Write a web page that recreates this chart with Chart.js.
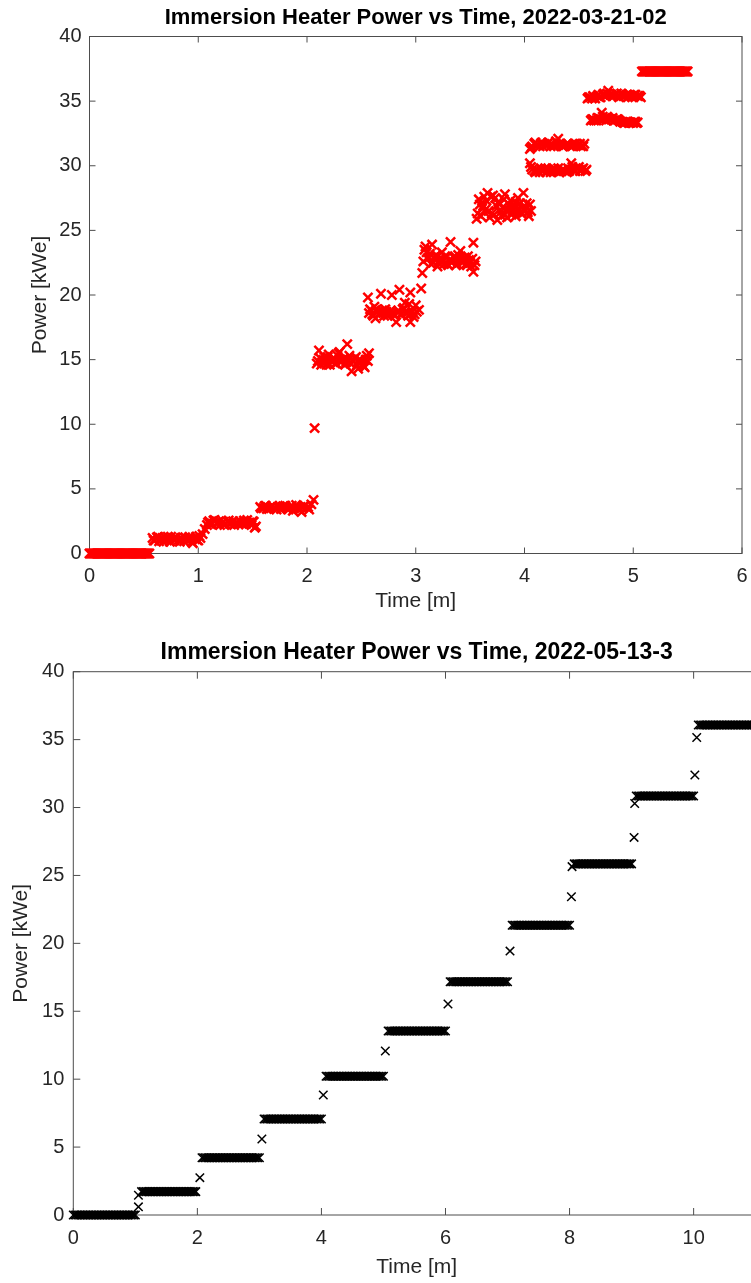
<!DOCTYPE html>
<html>
<head>
<meta charset="utf-8">
<title>Immersion Heater Power vs Time</title>
<script src="https://cdn.jsdelivr.net/npm/chart.js@4.4.1/dist/chart.umd.min.js"></script>
<style>
  html, body { margin: 0; padding: 0; background: #fff; overflow: hidden; }
  canvas { display: block; }
  #topPanel { position: absolute; left: 0; top: 0; width: 751px; height: 620px; }
  #bottomPanel { position: absolute; left: 0; top: 620px; width: 751px; height: 663px; overflow: hidden; }
</style>
</head>
<body>
<div id="topPanel"><canvas id="marchChart" width="751" height="620"></canvas></div>
<div id="bottomPanel"><canvas id="mayChart" width="770" height="663"></canvas></div>
<script>
// ─── Data: 2022-03-21-02 (red) ────────────────────────────────────────────────
// rows line up between the time and power arrays
const marchTime = [
  // 0 kWe
  0.00, 0.01, 0.02, 0.03, 0.04, 0.05, 0.06, 0.07, 0.08, 0.09,
  0.10, 0.11, 0.12, 0.13, 0.14, 0.15, 0.16, 0.17, 0.18, 0.19,
  0.20, 0.21, 0.22, 0.23, 0.24, 0.25, 0.26, 0.27, 0.28, 0.29,
  0.30, 0.31, 0.32, 0.33, 0.34, 0.35, 0.36, 0.37, 0.38, 0.39,
  0.40, 0.41, 0.42, 0.43, 0.44, 0.45, 0.46, 0.47, 0.48, 0.49,
  0.50, 0.51, 0.52, 0.53, 0.54, 0.55,
  // ~1.1
  0.58, 0.60, 0.63, 0.65, 0.68, 0.70, 0.73, 0.75, 0.78, 0.80, 0.83, 0.85, 0.88, 0.90, 0.93, 0.95, 0.98, 1.00, 1.02, 1.04, 1.06,
  0.59, 0.62, 0.64, 0.67, 0.69, 0.72, 0.74, 0.77, 0.79, 0.82, 0.84, 0.87, 0.89, 0.92, 0.94, 0.97, 0.99, 1.01,
  // ~2.35
  1.08, 1.10, 1.13, 1.15, 1.18, 1.20, 1.23, 1.25, 1.28, 1.30, 1.33, 1.35, 1.38, 1.40, 1.43, 1.45, 1.48, 1.50, 1.53, 1.52,
  1.09, 1.12, 1.14, 1.17, 1.19, 1.22, 1.24, 1.27, 1.29, 1.32, 1.34, 1.37, 1.39, 1.42, 1.44, 1.47, 1.49, 1.51,
  // ~3.55
  1.57, 1.60, 1.62, 1.65, 1.67, 1.70, 1.72, 1.75, 1.77, 1.80, 1.82, 1.85, 1.87, 1.90, 1.92, 1.95, 1.97, 2.00, 2.02, 2.04, 2.06, 2.07,
  1.58, 1.61, 1.63, 1.66, 1.68, 1.71, 1.73, 1.76, 1.78, 1.81, 1.83, 1.86, 1.88, 1.91, 1.93, 1.96, 1.98, 2.01,
  // ~15
  2.09, 2.11, 2.13, 2.15, 2.17, 2.19, 2.21, 2.23, 2.25, 2.27, 2.29, 2.31, 2.33, 2.35, 2.37, 2.39, 2.41, 2.43, 2.45, 2.47, 2.49, 2.51, 2.53, 2.55, 2.57,
  2.10, 2.12, 2.14, 2.16, 2.18, 2.20, 2.22, 2.24, 2.26, 2.28, 2.30, 2.32, 2.34, 2.36, 2.38, 2.40, 2.42, 2.44, 2.46, 2.48, 2.50, 2.52, 2.54, 2.56,
  // ~18.7
  2.56, 2.58, 2.60, 2.62, 2.63, 2.65, 2.68, 2.70, 2.72, 2.74, 2.76, 2.78, 2.80, 2.82, 2.84, 2.85, 2.87, 2.89, 2.90, 2.92, 2.95, 2.95, 2.97, 2.98, 3.00, 3.03, 3.05,
  2.57, 2.59, 2.61, 2.64, 2.66, 2.67, 2.69, 2.71, 2.73, 2.75, 2.77, 2.79, 2.81, 2.83, 2.86, 2.88, 2.91, 2.93, 2.94, 2.96, 2.99, 3.01,
  // ~22.8
  3.06, 3.08, 3.09, 3.11, 3.13, 3.15, 3.16, 3.18, 3.20, 3.22, 3.24, 3.26, 3.28, 3.30, 3.32, 3.34, 3.36, 3.38, 3.40, 3.41, 3.43, 3.45, 3.47, 3.49, 3.51, 3.53, 3.53, 3.55,
  3.07, 3.10, 3.12, 3.14, 3.17, 3.19, 3.21, 3.23, 3.25, 3.27, 3.29, 3.31, 3.33, 3.35, 3.37, 3.39, 3.42, 3.44, 3.46, 3.48, 3.50, 3.52, 3.54,
  // ~26.8
  3.56, 3.58, 3.60, 3.61, 3.63, 3.64, 3.66, 3.68, 3.70, 3.71, 3.73, 3.75, 3.76, 3.78, 3.80, 3.82, 3.82, 3.84, 3.85, 3.87, 3.89, 3.90, 3.92, 3.92, 3.94, 3.95, 3.97, 3.98, 3.99, 4.01, 4.02, 4.04, 4.06,
  3.57, 3.59, 3.62, 3.65, 3.67, 3.69, 3.72, 3.74, 3.77, 3.79, 3.81, 3.83, 3.86, 3.88, 3.91, 3.93, 3.96, 4.00, 4.03, 4.05,
  // ~29.7
  4.05, 4.07, 4.10, 4.12, 4.15, 4.17, 4.20, 4.22, 4.25, 4.27, 4.30, 4.32, 4.35, 4.37, 4.40, 4.43, 4.45, 4.47, 4.50, 4.52, 4.54, 4.57,
  4.06, 4.09, 4.11, 4.14, 4.16, 4.19, 4.21, 4.24, 4.26, 4.29, 4.31, 4.34, 4.36, 4.39, 4.41, 4.44, 4.46, 4.49, 4.51, 4.53, 4.56,
  // ~31.6
  4.05, 4.07, 4.10, 4.12, 4.15, 4.17, 4.20, 4.22, 4.25, 4.27, 4.30, 4.31, 4.33, 4.35, 4.38, 4.40, 4.42, 4.45, 4.47, 4.50, 4.52, 4.55,
  4.06, 4.09, 4.11, 4.14, 4.16, 4.19, 4.21, 4.24, 4.26, 4.29, 4.32, 4.34, 4.36, 4.39, 4.41, 4.44, 4.46, 4.49, 4.51, 4.54,
  // ~33.5
  4.61, 4.63, 4.66, 4.68, 4.71, 4.73, 4.76, 4.78, 4.81, 4.83, 4.86, 4.88, 4.91, 4.93, 4.96, 4.98, 5.01, 5.03,
  4.62, 4.64, 4.67, 4.70, 4.72, 4.75, 4.77, 4.80, 4.82, 4.85, 4.87, 4.90, 4.92, 4.95, 4.97, 5.00, 5.02, 5.04,
  // ~35.4
  4.58, 4.60, 4.63, 4.65, 4.68, 4.70, 4.73, 4.75, 4.77, 4.80, 4.82, 4.85, 4.87, 4.90, 4.92, 4.95, 4.97, 5.00, 5.02, 5.05, 5.07,
  4.59, 4.62, 4.64, 4.67, 4.69, 4.72, 4.74, 4.76, 4.79, 4.81, 4.84, 4.86, 4.89, 4.91, 4.94, 4.96, 4.99, 5.01, 5.04, 5.06,
  // 37.3
  5.08, 5.09,
  5.10, 5.11, 5.12, 5.13, 5.14, 5.15, 5.16, 5.17, 5.18, 5.19,
  5.20, 5.21, 5.22, 5.23, 5.24, 5.25, 5.26, 5.27, 5.28, 5.29,
  5.30, 5.31, 5.32, 5.33, 5.34, 5.35, 5.36, 5.37, 5.38, 5.39,
  5.40, 5.41, 5.42, 5.43, 5.44, 5.45, 5.46, 5.47, 5.48, 5.49,
  5.50,
];
const marchPower = [
  0, 0, 0, 0, 0, 0, 0, 0, 0, 0,
  0, 0, 0, 0, 0, 0, 0, 0, 0, 0,
  0, 0, 0, 0, 0, 0, 0, 0, 0, 0,
  0, 0, 0, 0, 0, 0, 0, 0, 0, 0,
  0, 0, 0, 0, 0, 0, 0, 0, 0, 0,
  0, 0, 0, 0, 0, 0,
  1.2, 1.0, 1.3, 1.1, 0.9, 1.2, 1.1, 1.3, 1.0, 1.2, 0.9, 1.1, 1.25, 1.0, 1.15, 0.8, 1.3, 1.0, 1.2, 1.5, 1.9,
  1.0, 1.25, 0.95, 1.2, 1.05, 1.3, 0.9, 1.15, 1.25, 1.05, 1.2, 0.95, 1.1, 1.3, 0.9, 1.1, 1.05, 1.35,
  2.2, 2.5, 2.3, 2.6, 2.4, 2.2, 2.45, 2.3, 2.55, 2.35, 2.2, 2.4, 2.5, 2.3, 2.45, 2.6, 2.3, 2.5, 2.1, 2.0,
  2.4, 2.25, 2.55, 2.3, 2.5, 2.35, 2.2, 2.45, 2.3, 2.5, 2.35, 2.25, 2.45, 2.55, 2.3, 2.4, 2.2, 2.45,
  3.6, 3.5, 3.7, 3.45, 3.6, 3.55, 3.4, 3.65, 3.5, 3.7, 3.45, 3.6, 3.3, 3.75, 3.5, 3.2, 3.65, 3.55, 3.4, 3.8, 4.15, 9.7,
  3.5, 3.65, 3.45, 3.55, 3.7, 3.5, 3.6, 3.45, 3.65, 3.55, 3.4, 3.7, 3.5, 3.6, 3.4, 3.55, 3.7, 3.6,
  14.7, 15.7, 14.6, 15.0, 14.8, 15.2, 14.6, 14.9, 15.1, 14.7, 15.5, 14.8, 15.0, 14.6, 16.2, 15.3, 14.1, 14.9, 15.2, 14.3, 15.0, 14.6, 14.4, 15.3, 15.5,
  14.9, 15.1, 14.8, 15.2, 14.6, 15.4, 14.9, 15.0, 14.7, 15.3, 15.6, 14.9, 15.1, 14.8, 15.0, 14.7, 14.9, 15.1, 14.6, 15.0, 14.8, 14.5, 15.0, 14.9,
  19.8, 18.9, 18.5, 19.1, 18.2, 18.7, 20.1, 18.6, 18.9, 18.4, 18.6, 20.0, 18.5, 17.9, 18.8, 20.4, 18.5, 19.0, 19.4, 18.6, 17.9, 20.2, 18.7, 18.3, 19.2, 18.85, 20.5,
  18.6, 18.8, 18.4, 18.9, 18.5, 18.6, 18.8, 18.4, 18.7, 18.5, 18.8, 18.6, 18.4, 18.7, 18.5, 18.9, 18.6, 18.4, 19.3, 18.6, 18.5, 18.7,
  21.7, 23.5, 23.75, 22.8, 23.2, 23.9, 22.5, 23.0, 22.2, 22.7, 23.3, 22.4, 22.9, 22.3, 24.1, 22.6, 23.0, 22.4, 22.8, 23.4, 22.5, 22.9, 22.3, 22.7, 22.2, 24.05, 21.8, 22.6,
  22.6, 23.3, 22.9, 22.4, 22.8, 23.1, 22.5, 22.9, 22.6, 23.0, 22.4, 22.7, 22.5, 22.9, 22.3, 23.1, 22.6, 22.8, 22.4, 23.0, 22.5, 22.8, 22.3,
  25.9, 27.4, 26.1, 26.7, 27.6, 26.6, 27.9, 26.0, 26.3, 27.7, 27.5, 25.8, 27.2, 26.4, 26.8, 27.8, 26.2, 26.0, 26.6, 27.3, 26.5, 26.9, 27.2, 26.1, 27.5, 26.7, 26.3, 26.3, 27.9, 26.8, 27.1, 26.1, 26.5,
  26.3, 27.0, 26.9, 27.3, 26.5, 27.6, 26.2, 26.9, 27.0, 26.1, 27.4, 26.6, 27.0, 26.2, 26.8, 26.4, 27.1, 26.6, 26.4, 27.0,
  30.2, 29.7, 29.5, 29.6, 29.8, 29.6, 29.5, 29.7, 29.6, 29.8, 29.6, 29.5, 29.7, 29.6, 29.8, 30.2, 29.7, 29.6, 29.9, 29.7, 29.8, 29.7,
  29.9, 29.6, 29.7, 29.5, 29.7, 29.8, 29.6, 29.5, 29.7, 29.6, 29.8, 29.6, 29.7, 29.5, 29.6, 29.9, 29.6, 29.8, 29.6, 29.7, 29.6,
  31.3, 31.5, 31.8, 31.6, 31.7, 31.5, 31.6, 31.8, 31.7, 31.5, 31.6, 32.1, 31.7, 31.5, 31.6, 31.7, 31.5, 31.6, 31.7, 31.6, 31.5, 31.7,
  31.4, 31.7, 31.6, 31.5, 31.8, 31.6, 31.7, 31.5, 31.6, 31.9, 31.7, 31.6, 31.5, 31.7, 31.6, 31.5, 31.7, 31.6, 31.7, 31.5,
  33.5, 33.6, 33.5, 33.7, 34.1, 33.6, 33.8, 33.6, 33.7, 33.5, 33.6, 33.4, 33.35, 33.4, 33.3, 33.35, 33.4, 33.3,
  33.6, 33.5, 33.7, 33.6, 33.8, 33.5, 33.7, 33.6, 33.5, 33.6, 33.5, 33.4, 33.3, 33.4, 33.35, 33.3, 33.4, 33.35,
  35.2, 35.3, 35.4, 35.2, 35.5, 35.3, 35.6, 35.4, 35.8, 35.5, 35.4, 35.6, 35.3, 35.5, 35.4, 35.3, 35.5, 35.4, 35.5, 35.4, 35.3,
  35.3, 35.2, 35.3, 35.4, 35.3, 35.5, 35.4, 35.6, 35.5, 35.4, 35.5, 35.4, 35.6, 35.4, 35.5, 35.4, 35.3, 35.5, 35.4, 35.4,
  37.3, 37.3,
  37.3, 37.3, 37.3, 37.3, 37.3, 37.3, 37.3, 37.3, 37.3, 37.3,
  37.3, 37.3, 37.3, 37.3, 37.3, 37.3, 37.3, 37.3, 37.3, 37.3,
  37.3, 37.3, 37.3, 37.3, 37.3, 37.3, 37.3, 37.3, 37.3, 37.3,
  37.3, 37.3, 37.3, 37.3, 37.3, 37.3, 37.3, 37.3, 37.3, 37.3,
  37.3,
];

// ─── Data: 2022-05-13-3 (black) ───────────────────────────────────────────────
const mayTime = [
  // 0 kWe
  0.000, 0.025, 0.050, 0.075, 0.100, 0.125, 0.150, 0.175, 0.200, 0.225,
  0.250, 0.275, 0.300, 0.325, 0.350, 0.375, 0.400, 0.425, 0.450, 0.475,
  0.500, 0.525, 0.550, 0.575, 0.600, 0.625, 0.650, 0.675, 0.700, 0.725,
  0.750, 0.775, 0.800, 0.825, 0.850, 0.875, 0.900, 0.925, 0.950, 0.975,
  1.000,
  1.05, 1.05,
  // 1.72
  1.100, 1.125, 1.150, 1.175, 1.200, 1.225, 1.250, 1.275, 1.300, 1.325,
  1.350, 1.375, 1.400, 1.425, 1.450, 1.475, 1.500, 1.525, 1.550, 1.575,
  1.600, 1.625, 1.650, 1.675, 1.700, 1.725, 1.750, 1.775, 1.800, 1.825,
  1.850, 1.875, 1.900, 1.925, 1.950, 1.975,
  2.04,
  // 4.22
  2.075, 2.100, 2.125, 2.150, 2.175, 2.200, 2.225, 2.250, 2.275, 2.300,
  2.325, 2.350, 2.375, 2.400, 2.425, 2.450, 2.475, 2.500, 2.525, 2.550,
  2.575, 2.600, 2.625, 2.650, 2.675, 2.700, 2.725, 2.750, 2.775, 2.800,
  2.825, 2.850, 2.875, 2.900, 2.925, 2.950, 2.975, 3.000,
  3.04,
  // 7.07
  3.075, 3.100, 3.125, 3.150, 3.175, 3.200, 3.225, 3.250, 3.275, 3.300,
  3.325, 3.350, 3.375, 3.400, 3.425, 3.450, 3.475, 3.500, 3.525, 3.550,
  3.575, 3.600, 3.625, 3.650, 3.675, 3.700, 3.725, 3.750, 3.775, 3.800,
  3.825, 3.850, 3.875, 3.900, 3.925, 3.950, 3.975, 4.000,
  4.03,
  // 10.22
  4.075, 4.100, 4.125, 4.150, 4.175, 4.200, 4.225, 4.250, 4.275, 4.300,
  4.325, 4.350, 4.375, 4.400, 4.425, 4.450, 4.475, 4.500, 4.525, 4.550,
  4.575, 4.600, 4.625, 4.650, 4.675, 4.700, 4.725, 4.750, 4.775, 4.800,
  4.825, 4.850, 4.875, 4.900, 4.925, 4.950, 4.975, 5.000,
  5.03,
  // 13.55
  5.075, 5.100, 5.125, 5.150, 5.175, 5.200, 5.225, 5.250, 5.275, 5.300,
  5.325, 5.350, 5.375, 5.400, 5.425, 5.450, 5.475, 5.500, 5.525, 5.550,
  5.575, 5.600, 5.625, 5.650, 5.675, 5.700, 5.725, 5.750, 5.775, 5.800,
  5.825, 5.850, 5.875, 5.900, 5.925, 5.950, 5.975, 6.000,
  6.04,
  // 17.17
  6.075, 6.100, 6.125, 6.150, 6.175, 6.200, 6.225, 6.250, 6.275, 6.300,
  6.325, 6.350, 6.375, 6.400, 6.425, 6.450, 6.475, 6.500, 6.525, 6.550,
  6.575, 6.600, 6.625, 6.650, 6.675, 6.700, 6.725, 6.750, 6.775, 6.800,
  6.825, 6.850, 6.875, 6.900, 6.925, 6.950, 6.975, 7.000,
  7.04,
  // 21.33
  7.075, 7.100, 7.125, 7.150, 7.175, 7.200, 7.225, 7.250, 7.275, 7.300,
  7.325, 7.350, 7.375, 7.400, 7.425, 7.450, 7.475, 7.500, 7.525, 7.550,
  7.575, 7.600, 7.625, 7.650, 7.675, 7.700, 7.725, 7.750, 7.775, 7.800,
  7.825, 7.850, 7.875, 7.900, 7.925, 7.950, 7.975, 8.000,
  8.03, 8.04,
  // 25.85
  8.075, 8.100, 8.125, 8.150, 8.175, 8.200, 8.225, 8.250, 8.275, 8.300,
  8.325, 8.350, 8.375, 8.400, 8.425, 8.450, 8.475, 8.500, 8.525, 8.550,
  8.575, 8.600, 8.625, 8.650, 8.675, 8.700, 8.725, 8.750, 8.775, 8.800,
  8.825, 8.850, 8.875, 8.900, 8.925, 8.950, 8.975, 9.000,
  9.04, 9.05,
  // 30.85
  9.075, 9.100, 9.125, 9.150, 9.175, 9.200, 9.225, 9.250, 9.275, 9.300,
  9.325, 9.350, 9.375, 9.400, 9.425, 9.450, 9.475, 9.500, 9.525, 9.550,
  9.575, 9.600, 9.625, 9.650, 9.675, 9.700, 9.725, 9.750, 9.775, 9.800,
  9.825, 9.850, 9.875, 9.900, 9.925, 9.950, 9.975, 10.000,
  10.02, 10.05,
  // 36.08
  10.075, 10.100, 10.125, 10.150, 10.175, 10.200, 10.225, 10.250, 10.275, 10.300,
  10.325, 10.350, 10.375, 10.400, 10.425, 10.450, 10.475, 10.500, 10.525, 10.550,
  10.575, 10.600, 10.625, 10.650, 10.675, 10.700, 10.725, 10.750, 10.775, 10.800,
  10.825, 10.850, 10.875, 10.900, 10.925, 10.950, 10.975, 11.000, 11.025, 11.050,
];
const mayPower = [
  0, 0, 0, 0, 0, 0, 0, 0, 0, 0,
  0, 0, 0, 0, 0, 0, 0, 0, 0, 0,
  0, 0, 0, 0, 0, 0, 0, 0, 0, 0,
  0, 0, 0, 0, 0, 0, 0, 0, 0, 0,
  0,
  0.6, 1.45,
  1.72, 1.72, 1.72, 1.72, 1.72, 1.72, 1.72, 1.72, 1.72, 1.72,
  1.72, 1.72, 1.72, 1.72, 1.72, 1.72, 1.72, 1.72, 1.72, 1.72,
  1.72, 1.72, 1.72, 1.72, 1.72, 1.72, 1.72, 1.72, 1.72, 1.72,
  1.72, 1.72, 1.72, 1.72, 1.72, 1.72,
  2.75,
  4.22, 4.22, 4.22, 4.22, 4.22, 4.22, 4.22, 4.22, 4.22, 4.22,
  4.22, 4.22, 4.22, 4.22, 4.22, 4.22, 4.22, 4.22, 4.22, 4.22,
  4.22, 4.22, 4.22, 4.22, 4.22, 4.22, 4.22, 4.22, 4.22, 4.22,
  4.22, 4.22, 4.22, 4.22, 4.22, 4.22, 4.22, 4.22,
  5.6,
  7.07, 7.07, 7.07, 7.07, 7.07, 7.07, 7.07, 7.07, 7.07, 7.07,
  7.07, 7.07, 7.07, 7.07, 7.07, 7.07, 7.07, 7.07, 7.07, 7.07,
  7.07, 7.07, 7.07, 7.07, 7.07, 7.07, 7.07, 7.07, 7.07, 7.07,
  7.07, 7.07, 7.07, 7.07, 7.07, 7.07, 7.07, 7.07,
  8.84,
  10.22, 10.22, 10.22, 10.22, 10.22, 10.22, 10.22, 10.22, 10.22, 10.22,
  10.22, 10.22, 10.22, 10.22, 10.22, 10.22, 10.22, 10.22, 10.22, 10.22,
  10.22, 10.22, 10.22, 10.22, 10.22, 10.22, 10.22, 10.22, 10.22, 10.22,
  10.22, 10.22, 10.22, 10.22, 10.22, 10.22, 10.22, 10.22,
  12.08,
  13.55, 13.55, 13.55, 13.55, 13.55, 13.55, 13.55, 13.55, 13.55, 13.55,
  13.55, 13.55, 13.55, 13.55, 13.55, 13.55, 13.55, 13.55, 13.55, 13.55,
  13.55, 13.55, 13.55, 13.55, 13.55, 13.55, 13.55, 13.55, 13.55, 13.55,
  13.55, 13.55, 13.55, 13.55, 13.55, 13.55, 13.55, 13.55,
  15.54,
  17.17, 17.17, 17.17, 17.17, 17.17, 17.17, 17.17, 17.17, 17.17, 17.17,
  17.17, 17.17, 17.17, 17.17, 17.17, 17.17, 17.17, 17.17, 17.17, 17.17,
  17.17, 17.17, 17.17, 17.17, 17.17, 17.17, 17.17, 17.17, 17.17, 17.17,
  17.17, 17.17, 17.17, 17.17, 17.17, 17.17, 17.17, 17.17,
  19.43,
  21.33, 21.33, 21.33, 21.33, 21.33, 21.33, 21.33, 21.33, 21.33, 21.33,
  21.33, 21.33, 21.33, 21.33, 21.33, 21.33, 21.33, 21.33, 21.33, 21.33,
  21.33, 21.33, 21.33, 21.33, 21.33, 21.33, 21.33, 21.33, 21.33, 21.33,
  21.33, 21.33, 21.33, 21.33, 21.33, 21.33, 21.33, 21.33,
  23.43, 25.65,
  25.85, 25.85, 25.85, 25.85, 25.85, 25.85, 25.85, 25.85, 25.85, 25.85,
  25.85, 25.85, 25.85, 25.85, 25.85, 25.85, 25.85, 25.85, 25.85, 25.85,
  25.85, 25.85, 25.85, 25.85, 25.85, 25.85, 25.85, 25.85, 25.85, 25.85,
  25.85, 25.85, 25.85, 25.85, 25.85, 25.85, 25.85, 25.85,
  27.8, 30.3,
  30.85, 30.85, 30.85, 30.85, 30.85, 30.85, 30.85, 30.85, 30.85, 30.85,
  30.85, 30.85, 30.85, 30.85, 30.85, 30.85, 30.85, 30.85, 30.85, 30.85,
  30.85, 30.85, 30.85, 30.85, 30.85, 30.85, 30.85, 30.85, 30.85, 30.85,
  30.85, 30.85, 30.85, 30.85, 30.85, 30.85, 30.85, 30.85,
  32.4, 35.15,
  36.08, 36.08, 36.08, 36.08, 36.08, 36.08, 36.08, 36.08, 36.08, 36.08,
  36.08, 36.08, 36.08, 36.08, 36.08, 36.08, 36.08, 36.08, 36.08, 36.08,
  36.08, 36.08, 36.08, 36.08, 36.08, 36.08, 36.08, 36.08, 36.08, 36.08,
  36.08, 36.08, 36.08, 36.08, 36.08, 36.08, 36.08, 36.08, 36.08, 36.08,
];

// ─── Tick labels ──────────────────────────────────────────────────────────────
const marchTimeTicks = [0, 1, 2, 3, 4, 5, 6];
const mayTimeTicks = [0, 2, 4, 6, 8, 10];
const powerTicks = [0, 5, 10, 15, 20, 25, 30, 35, 40];

Chart.defaults.font.family = '"Liberation Sans", Arial, Helvetica, sans-serif';
Chart.defaults.color = '#262626';

// ─── MATLAB-style box: full frame with inward ticks on all four sides ────────
const axesBox = {
  id: 'axesBox',
  beforeDatasetsDraw(chart, args, opts) {
    const { ctx, chartArea: a, scales: { x, y } } = chart;
    const len = opts.tickLength;
    ctx.save();
    ctx.strokeStyle = '#4d4d4d';
    ctx.lineWidth = 1;
    ctx.strokeRect(a.left, a.top, a.right - a.left, a.bottom - a.top);
    ctx.beginPath();
    x.ticks.forEach((t) => {
      const px = x.getPixelForValue(t.value);
      ctx.moveTo(px, a.bottom); ctx.lineTo(px, a.bottom - len);
      ctx.moveTo(px, a.top); ctx.lineTo(px, a.top + len);
    });
    y.ticks.forEach((t) => {
      const py = y.getPixelForValue(t.value);
      ctx.moveTo(a.left, py); ctx.lineTo(a.left + len, py);
      ctx.moveTo(a.right, py); ctx.lineTo(a.right - len, py);
    });
    ctx.stroke();
    ctx.restore();
  },
};

function heaterChart(canvasId, cfg) {
  const points = cfg.time.map((t, i) => ({ x: t, y: cfg.power[i] }));
  return new Chart(document.getElementById(canvasId), {
    type: 'scatter',
    data: {
      datasets: [{
        data: points,
        pointStyle: 'crossRot',
        pointRadius: cfg.radius,
        pointHoverRadius: cfg.radius,
        borderColor: cfg.color,
        backgroundColor: cfg.color,
        borderWidth: cfg.stroke,
        clip: false,
      }],
    },
    options: {
      responsive: false,
      animation: false,
      events: [],
      layout: { padding: { left: 0, top: 0, bottom: 0, right: cfg.padRight } },
      plugins: {
        legend: { display: false },
        tooltip: { enabled: false },
        title: {
          display: true,
          text: cfg.title,
          fullSize: false,
          color: '#000',
          font: { size: cfg.titleSize, weight: 'bold' },
          padding: cfg.titlePad,
        },
        axesBox: { tickLength: cfg.tickLength },
      },
      scales: {
        x: {
          type: 'linear',
          min: 0, max: cfg.xMax,
          afterBuildTicks: (s) => { s.ticks = cfg.xTicks.map((v) => ({ value: v })); },
          afterFit: (s) => { s.height = cfg.xAxisHeight; s.paddingLeft = 0; s.paddingRight = 0; },
          grid: { display: false, drawTicks: false },
          border: { display: false },
          ticks: { padding: cfg.xTickPad, font: { size: 20 }, color: '#262626', maxRotation: 0 },
          title: { display: true, text: 'Time [m]', font: { size: 21 }, color: '#262626', padding: { top: 0, bottom: cfg.xTitlePad } },
        },
        y: {
          type: 'linear',
          min: 0, max: 40,
          afterBuildTicks: (s) => { s.ticks = powerTicks.map((v) => ({ value: v })); },
          afterFit: (s) => { s.width = cfg.yAxisWidth; },
          grid: { display: false, drawTicks: false },
          border: { display: false },
          ticks: { padding: cfg.yTickPad, font: { size: 20 }, color: '#262626' },
          title: { display: true, text: 'Power [kWe]', font: { size: 21 }, color: '#262626', padding: { top: cfg.yTitlePad, bottom: 0 } },
        },
      },
    },
    plugins: [axesBox],
  });
}

// ── Chart 1: 2022-03-21-02 ───────────────────────────────────────────────────
heaterChart('marchChart', {
  title: 'Immersion Heater Power vs Time, 2022-03-21-02', titleSize: 22,
  time: marchTime, power: marchPower, xTicks: marchTimeTicks, xMax: 6,
  color: '#ff0000', radius: 6.5, stroke: 2.5, tickLength: 6,
  padRight: 5, titlePad: { top: 4.8, bottom: 5.3 },
  xAxisHeight: 66.5, yAxisWidth: 89.5,
  xTickPad: 10.5, yTickPad: 8, xTitlePad: 6, yTitlePad: 28,
});

// ── Chart 2: 2022-05-13-3 (axes run past the right edge of the page) ────────
heaterChart('mayChart', {
  title: 'Immersion Heater Power vs Time, 2022-05-13-3', titleSize: 23,
  time: mayTime, power: mayPower, xTicks: mayTimeTicks, xMax: 11.07,
  color: '#000000', radius: 6, stroke: 1.5, tickLength: 7,
  padRight: 10, titlePad: { top: 18.7, bottom: 5.4 },
  xAxisHeight: 68, yAxisWidth: 73.3,
  xTickPad: 11, yTickPad: 9, xTitlePad: 3, yTitlePad: 9,
});
</script>
</body>
</html>
